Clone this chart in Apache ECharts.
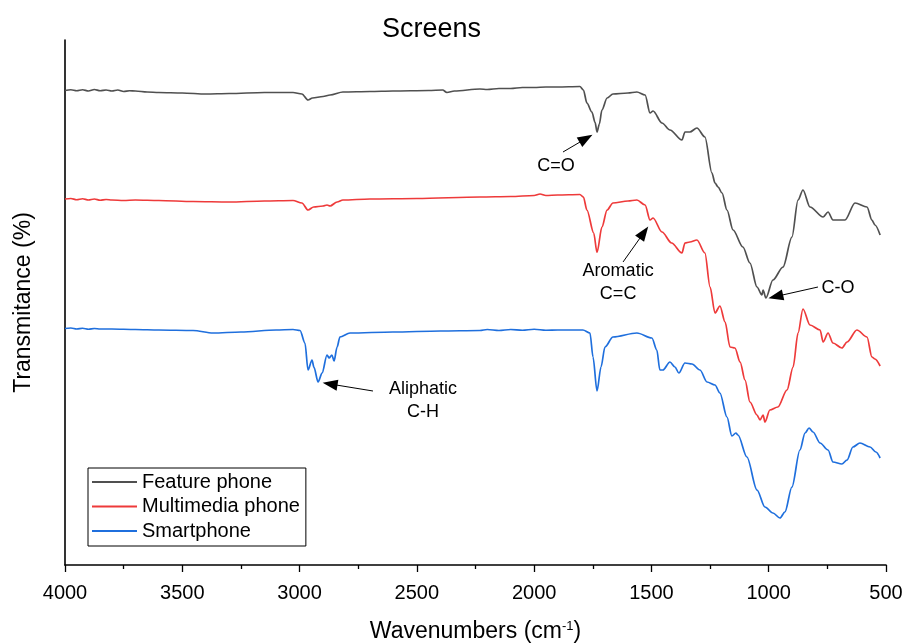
<!DOCTYPE html>
<html>
<head>
<meta charset="utf-8">
<title>Screens</title>
<script src="https://cdn.jsdelivr.net/npm/echarts@6/dist/echarts.min.js"></script>
<style>
  html, body { margin: 0; padding: 0; background: #fff; }
  #chart { width: 904px; height: 644px; }
</style>
</head>
<body>
<div id="chart"></div>
<script>
// FTIR spectra of phone screen samples (offset transmittance, arbitrary units)
const xTicks = [4000, 3500, 3000, 2500, 2000, 1500, 1000, 500];

const featureWn = [4000, 3975, 3950, 3925, 3900, 3875, 3850, 3825, 3800, 3775, 3750, 3725, 3700, 3650, 3600, 3500, 3400, 3300, 3150, 3028, 2990, 2964, 2945, 2900, 2870, 2815, 2700, 2602, 2450, 2390, 2372, 2340, 2231, 2200, 2150, 2100, 2050, 2000, 1950, 1900, 1805, 1790, 1775, 1754, 1740, 1732, 1722, 1711, 1689, 1664, 1600, 1562, 1527, 1506, 1493, 1455, 1421, 1370, 1357, 1336, 1306, 1272, 1242, 1229, 1216, 1199, 1178, 1152, 1110, 1080, 1050, 1029, 1024, 1012, 982, 939, 901, 875, 854, 824, 768, 747, 726, 675, 632, 581, 560, 547, 525];
const featureT = [94.9, 95.05, 94.85, 95.05, 94.8, 95.1, 94.85, 95.0, 94.8, 95.0, 94.7, 94.85, 94.8, 94.6, 94.5, 94.4, 94.2, 94.3, 94.5, 94.5, 94.2, 93.0, 93.4, 93.7, 94.0, 94.6, 94.7, 94.8, 94.9, 95.0, 94.5, 94.8, 95.2, 95.1, 95.3, 95.3, 95.5, 95.5, 95.6, 95.6, 95.7, 95.0, 92.4, 90.6, 88.5, 86.6, 88.2, 91.0, 93.4, 94.2, 94.4, 94.6, 94.0, 90.4, 90.8, 88.4, 87.0, 85.0, 86.6, 86.6, 87.4, 85.6, 78.4, 76.4, 75.6, 74.4, 71.0, 67.0, 63.6, 60.4, 55.6, 54.0, 55.0, 53.4, 57.0, 59.6, 65.6, 73.0, 75.0, 71.6, 69.6, 70.6, 69.0, 69.0, 72.4, 71.6, 69.0, 68.0, 66.0];

const multimediaWn = [4000, 3975, 3950, 3925, 3900, 3875, 3850, 3825, 3800, 3750, 3700, 3600, 3454, 3300, 3150, 3028, 2990, 2964, 2940, 2900, 2883, 2870, 2840, 2815, 2700, 2500, 2231, 2100, 2000, 1975, 1950, 1900, 1805, 1790, 1775, 1746, 1732, 1711, 1689, 1664, 1600, 1562, 1527, 1506, 1493, 1455, 1414, 1370, 1357, 1336, 1306, 1272, 1250, 1229, 1208, 1186, 1165, 1144, 1122, 1101, 1080, 1050, 1037, 1024, 1016, 995, 961, 922, 896, 875, 854, 824, 781, 768, 747, 726, 688, 666, 624, 581, 560, 547, 525];
const multimediaT = [73.2, 73.3, 73.05, 73.25, 73.0, 73.2, 72.95, 73.1, 73.0, 72.9, 73.0, 72.9, 72.7, 72.6, 72.8, 72.9, 72.4, 71.0, 71.6, 71.8, 72.0, 71.8, 72.6, 73.0, 73.2, 73.3, 73.6, 73.7, 73.9, 74.2, 73.9, 74.0, 74.1, 73.6, 71.0, 66.4, 62.5, 67.6, 71.0, 72.4, 72.8, 73.0, 72.0, 69.0, 69.4, 66.6, 64.4, 62.4, 64.4, 64.6, 65.0, 62.4, 55.6, 50.4, 51.8, 48.6, 43.6, 43.4, 40.6, 37.0, 32.6, 30.0, 29.0, 30.0, 28.6, 31.0, 31.6, 35.0, 39.6, 46.4, 51.2, 48.0, 47.0, 44.6, 46.4, 44.4, 43.4, 44.6, 47.0, 45.6, 41.6, 41.2, 39.8];

const smartWn = [4000, 3975, 3950, 3925, 3900, 3875, 3850, 3800, 3700, 3600, 3454, 3369, 3250, 3100, 3028, 2998, 2977, 2964, 2947, 2939, 2921, 2904, 2883, 2874, 2862, 2853, 2840, 2828, 2785, 2602, 2400, 2231, 2200, 2150, 2100, 2050, 2000, 1950, 1900, 1792, 1762, 1749, 1732, 1715, 1698, 1664, 1562, 1498, 1477, 1464, 1451, 1421, 1400, 1383, 1357, 1327, 1293, 1263, 1229, 1208, 1178, 1157, 1140, 1131, 1093, 1050, 1016, 982, 952, 931, 901, 867, 845, 828, 811, 781, 747, 726, 688, 666, 641, 611, 568, 543, 525];
const smartT = [47.3, 47.4, 47.2, 47.35, 47.15, 47.3, 47.2, 47.2, 47.1, 47.0, 46.9, 46.4, 46.6, 47.0, 47.1, 46.9, 44.4, 39.0, 41.0, 39.6, 36.6, 38.4, 42.0, 41.4, 42.0, 40.8, 43.6, 45.6, 46.4, 46.6, 46.8, 46.9, 47.1, 46.9, 47.1, 46.95, 47.15, 46.95, 47.0, 47.0, 46.4, 41.6, 34.8, 39.6, 43.6, 45.6, 46.4, 45.4, 43.0, 39.0, 39.0, 40.6, 39.6, 38.4, 40.4, 40.2, 39.0, 36.6, 36.0, 34.4, 29.6, 25.8, 26.4, 26.0, 21.6, 15.0, 11.6, 10.4, 9.4, 10.6, 15.6, 23.0, 26.4, 27.4, 26.6, 24.4, 23.0, 20.6, 20.2, 21.0, 23.6, 24.4, 23.6, 22.6, 21.4];

// Band assignments: arrow start, arrow head and label anchor (wavenumber, value)
const bandNames = ['C=O', 'Aromatic\nC=C', 'C-O', 'Aliphatic\nC-H'];
const arrowFrom = [[1877, 82.6], [1621, 60.6], [790, 55.6], [2687, 34.8]];
const arrowTo = [[1779, 85.3], [1532, 66.5], [970, 53.7], [2870, 36.2]];
const labelAt = [[1907, 79.8], [1642, 56.4], [705, 55.4], [2474, 32.8]];

const FONT = '"Liberation Sans", Arial, Helvetica, sans-serif';

function zip(xs, ys) { return xs.map((x, i) => [x, ys[i]]); }

const chart = echarts.init(document.getElementById('chart'), null, { renderer: 'canvas' });

const lineSeries = (name, color, data) => ({
  name, type: 'line', data,
  symbol: 'none', showSymbol: false,
  smooth: 0.3, smoothMonotone: 'x',
  lineStyle: { color, width: 1.7 },
  itemStyle: { color },
  animation: false,
  z: 2
});

const annotationSeries = {
  name: 'bands', type: 'line', data: [],
  animation: false, silent: true, z: 5,
  markLine: {
    silent: true, animation: false,
    lineStyle: { color: '#000', width: 1, type: 'solid' },
    label: { show: false },
    symbol: ['none', 'triangle'],
    symbolSize: [1, 14],
    data: arrowFrom.map((p, i) => [
      { coord: p, symbol: 'none' },
      { coord: arrowTo[i], symbol: 'triangle', symbolSize: [11, 15] }
    ])
  },
  markPoint: {
    silent: true, animation: false,
    symbol: 'circle', symbolSize: 0,
    itemStyle: { color: 'rgba(0,0,0,0)' },
    label: {
      show: true, position: 'inside', color: '#000',
      fontFamily: FONT, fontSize: 18, lineHeight: 23, align: 'center',
      formatter: p => p.name
    },
    data: labelAt.map((p, i) => ({ name: bandNames[i], coord: p }))
  }
};

chart.setOption({
  backgroundColor: '#fff',
  animation: false,
  title: {
    text: 'Screens',
    left: 377, top: 11,
    textStyle: { fontFamily: FONT, fontSize: 27, fontWeight: 'normal', color: '#000' }
  },
  grid: { left: 65, right: 18, top: 40, bottom: 79, containLabel: false, outerBoundsMode: 'none' },
  legend: {
    data: ['Feature phone', 'Multimedia phone', 'Smartphone'],
    orient: 'vertical', left: 88, top: 468,
    padding: [4, 6, 5, 4],
    itemGap: 4.5, itemWidth: 45, itemHeight: 2,
    icon: 'rect',
    borderColor: '#000', borderWidth: 1,
    backgroundColor: '#fff',
    textStyle: { fontFamily: FONT, fontSize: 20, color: '#000' }
  },
  xAxis: {
    type: 'value', inverse: true,
    min: 500, max: 4000, interval: 500,
    name: 'Wavenumbers (cm{sup|-1})',
    nameLocation: 'middle', nameGap: 55,
    nameTextStyle: {
      fontFamily: FONT, fontSize: 23, color: '#000',
      rich: { sup: { fontFamily: FONT, fontSize: 13, color: '#000', verticalAlign: 'top', padding: [0, 0, 10, 0] } }
    },
    axisLine: { show: true, onZero: false, lineStyle: { color: '#000', width: 1.6 } },
    axisTick: { show: true, inside: false, length: 7, lineStyle: { color: '#000', width: 1.3 } },
    minorTick: { show: true, splitNumber: 2, length: 4, lineStyle: { color: '#000', width: 1.3 } },
    axisLabel: {
      fontFamily: FONT, fontSize: 20, color: '#000', margin: 18,
      formatter: v => (xTicks.indexOf(v) >= 0 ? String(v) : '')
    },
    splitLine: { show: false },
    minorSplitLine: { show: false }
  },
  yAxis: {
    type: 'value', min: 0, max: 105,
    name: 'Transmitance (%)',
    nameLocation: 'middle', nameGap: 30, nameRotate: 90,
    nameTextStyle: { fontFamily: FONT, fontSize: 23, color: '#000' },
    axisLine: { show: true, lineStyle: { color: '#000', width: 1.6 } },
    axisTick: { show: false },
    axisLabel: { show: false },
    splitLine: { show: false }
  },
  series: [
    lineSeries('Feature phone', '#505050', zip(featureWn, featureT)),
    lineSeries('Multimedia phone', '#ee3a3a', zip(multimediaWn, multimediaT)),
    lineSeries('Smartphone', '#1f6fdd', zip(smartWn, smartT)),
    annotationSeries
  ]
});
</script>
</body>
</html>
